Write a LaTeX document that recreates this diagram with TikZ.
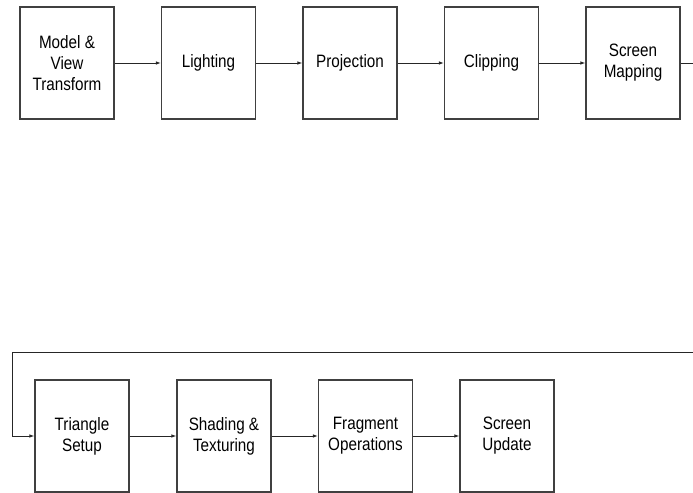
\documentclass[tikz,border=0pt]{standalone}
\usepackage{fontspec}
\setmainfont[FakeStretch=0.85]{Liberation Sans}
\usepackage{tikz}
\usetikzlibrary{positioning,calc}
\usetikzlibrary{arrows.meta}
\tikzset{stage/.style={draw=black!75,line width=1.1bp,minimum width=94bp,minimum height=112bp,inner sep=0pt,align=center,font=\fontsize{18}{21}\selectfont}, flow/.style={draw=black!85,line width=0.9bp,-{Latex[length=5bp,width=3.5bp]}}}

\begin{document}
\begin{tikzpicture}[x=1bp,y=-1bp]
\useasboundingbox (0,0) rectangle (693,493);
\clip (0,0) rectangle (693,493);
% top row
\node[stage] (mvt) at (67,63) {Model \&\\View\\Transform};
\node[stage] (lit) at (208.5,63) {Lighting};
\node[stage] (pro) at (350,63) {Projection};
\node[stage] (cli) at (491.5,63) {Clipping};
\node[stage] (smp) at (633,63) {Screen\\Mapping};
% bottom row
\node[stage] (tri) at (82,436) {Triangle\\Setup};
\node[stage] (sha) at (224,436) {Shading \&\\Texturing};
\node[stage] (fra) at (365.5,436) {Fragment\\Operations};
\node[stage] (upd) at (507,436) {Screen\\Update};
\coordinate (ra) at (705,63);
\coordinate (rb) at (705,352);
\coordinate (la) at (12,352);
\draw[flow] (mvt) -- (lit);
\draw[flow] (lit) -- (pro);
\draw[flow] (pro) -- (cli);
\draw[flow] (cli) -- (smp);
\draw[flow] (smp.east) -- (ra) -- (rb) -- (la) |- (tri.west);
\draw[flow] (tri) -- (sha);
\draw[flow] (sha) -- (fra);
\draw[flow] (fra) -- (upd);
\end{tikzpicture}
\end{document}
